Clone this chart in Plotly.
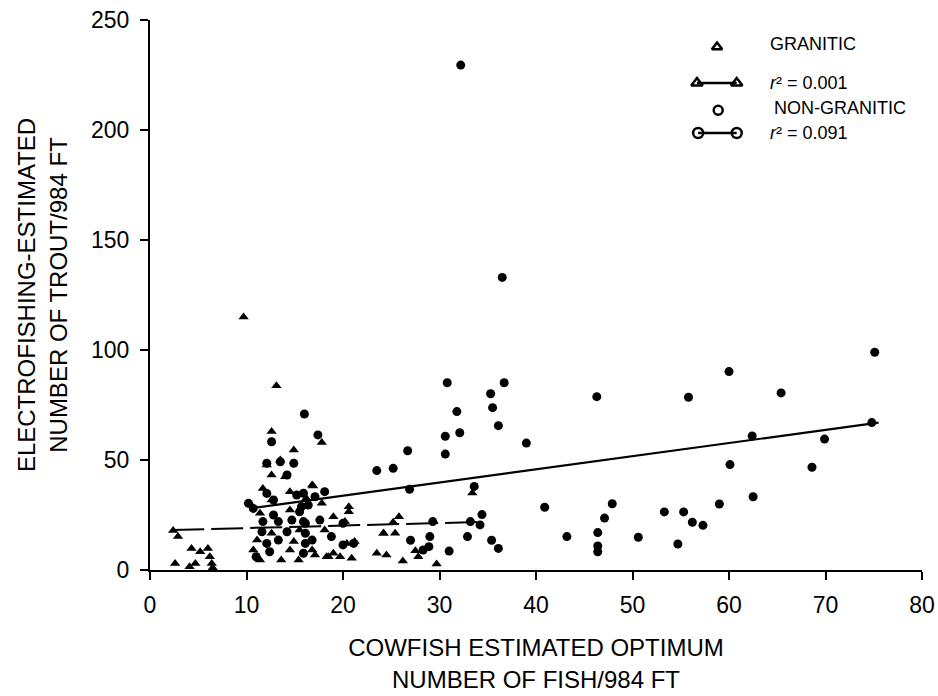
import plotly.graph_objects as go

# ---------------- data ----------------
granitic_x = [2.4, 2.9, 4.3, 5.2, 6.0, 6.2, 2.6, 4.1, 4.7, 6.4, 6.5,
              9.7, 13.1, 12.6, 17.8, 14.9, 13.5, 12.1, 12.6, 14.0, 16.8, 12.6, 10.4, 20.6,
              11.1, 13.6, 15.4, 18.5, 19.7, 18.3, 19.0,
              11.7, 14.5, 16.2, 11.4, 14.5, 12.6, 15.5, 11.1, 14.9, 10.7, 14.5, 11.4,
              20.6, 20.2, 20.4, 21.2, 20.9,
              25.8, 25.2, 24.2, 25.4, 23.5, 24.5, 27.5, 27.8, 26.2, 29.7, 33.4,
              16.9, 17.8, 18.1, 16.8, 17.1, 19.0, 24.2]
granitic_y = [17.9, 15.2, 9.8, 8.3, 9.8, 6.0, 3.0, 1.5, 3.0, 3.0, 1.0,
              115.0, 83.8, 62.9, 58.0, 54.5, 50.0, 47.7, 43.2, 42.4, 38.6, 31.8, 30.0, 28.8,
              6.0, 4.5, 4.5, 6.0, 6.0, 6.0, 7.6,
              37.1, 35.6, 32.6, 25.8, 27.3, 16.7, 18.2, 13.6, 12.9, 9.1, 9.1, 4.5,
              26.5, 22.0, 12.1, 12.9, 5.3,
              24.2, 21.7, 16.7, 16.7, 7.6, 6.8, 8.8, 6.0, 4.1, 2.7, 35.0,
              38.2, 30.3, 18.2, 9.1, 6.8, 24.2, 16.7]

nongranitic_x = [32.2, 36.5, 16.0, 17.4, 12.6, 14.9, 12.1, 13.5, 14.2, 12.1, 15.2, 15.9,
                 12.8, 10.2, 10.7, 12.8, 15.5, 11.7, 13.3, 14.7, 16.1, 11.6, 14.2, 12.1,
                 13.3, 16.1, 12.4, 15.9, 16.4, 15.7, 17.1, 18.1, 17.6, 15.9, 20.0, 18.8,
                 16.1, 16.8, 20.0, 21.1, 11.0,
                 30.8, 36.7, 35.3, 31.8, 35.5, 36.1, 30.6, 32.1, 39.0, 26.7, 30.6, 23.5,
                 25.2, 26.9, 33.6, 34.4, 29.3, 33.2, 34.2, 29.0, 32.9, 27.0, 35.4, 36.1,
                 31.0, 28.9, 28.3,
                 60.0, 46.3, 55.8, 65.4, 75.1, 62.4, 74.8, 69.9, 60.1, 68.6, 62.5, 40.9,
                 47.9, 47.1, 53.3, 55.3, 59.0, 56.2, 57.3, 43.2, 46.4, 46.4, 46.4, 50.6, 54.7]
nongranitic_y = [229.5, 133.0, 70.9, 61.4, 58.3, 48.5, 48.5, 49.2, 43.2, 34.8, 34.1, 34.9,
                 31.8, 30.3, 28.0, 25.0, 26.5, 22.0, 22.0, 22.7, 21.2, 17.4, 17.4, 12.1,
                 13.6, 12.1, 8.3, 7.6, 29.5, 28.8, 33.3, 35.6, 22.7, 22.0, 21.2, 15.2,
                 16.7, 13.6, 11.4, 12.1, 6.0,
                 85.1, 85.1, 80.1, 72.0, 73.8, 65.6, 60.8, 62.4, 57.7, 54.2, 52.7, 45.2,
                 46.2, 36.7, 38.0, 25.2, 22.0, 22.0, 20.5, 15.2, 15.2, 13.5, 13.5, 9.8,
                 8.6, 10.6, 9.1,
                 90.2, 78.8, 78.5, 80.5, 99.0, 60.9, 67.0, 59.5, 47.9, 46.7, 33.3, 28.5,
                 30.1, 23.6, 26.4, 26.4, 30.0, 21.7, 20.3, 15.2, 17.0, 10.9, 8.3, 14.9, 11.8]

# fitted regression lines (end points)
granitic_fit_x = [2.3, 34.2]
granitic_fit_y = [18.2, 21.8]
nongranitic_fit_x = [10.4, 75.5]
nongranitic_fit_y = [28.0, 67.0]

x_ticks = [0, 10, 20, 30, 40, 50, 60, 70, 80]
y_ticks = [0, 50, 100, 150, 200, 250]

legend_labels = ["GRANITIC", "<i>r</i>² = 0.001", "NON-GRANITIC", "<i>r</i>² = 0.091"]

FONT = "Liberation Sans, Arial, sans-serif"

fig = go.Figure()

fig.add_trace(go.Scatter(x=granitic_fit_x, y=granitic_fit_y, mode="lines",
                         line=dict(color="black", width=2, dash="32px,7px"),
                         showlegend=False, hoverinfo="skip"))
fig.add_trace(go.Scatter(x=nongranitic_fit_x, y=nongranitic_fit_y, mode="lines",
                         line=dict(color="black", width=2.2),
                         showlegend=False, hoverinfo="skip"))
fig.add_trace(go.Scatter(x=granitic_x, y=granitic_y, mode="markers",
                         marker=dict(symbol="triangle-up", size=9, color="black"),
                         showlegend=False))
fig.add_trace(go.Scatter(x=nongranitic_x, y=nongranitic_y, mode="markers",
                         marker=dict(symbol="circle", size=9, color="black"),
                         showlegend=False))

# ---- hand-drawn style legend on an overlay axis (0..1 over the plot area) ----
fig.add_trace(go.Scatter(x=[0.7345], y=[0.951], mode="markers", xaxis="x2", yaxis="y2",
                         marker=dict(symbol="triangle-up-open", size=9, color="black",
                                     line=dict(width=2.5, color="black")),
                         showlegend=False, hoverinfo="skip"))
fig.add_trace(go.Scatter(x=[0.7085, 0.760], y=[0.8855, 0.8855], mode="lines+markers",
                         xaxis="x2", yaxis="y2",
                         line=dict(color="black", width=2.5),
                         marker=dict(symbol="triangle-up-open", size=10, color="black",
                                     line=dict(width=2.5, color="black")),
                         showlegend=False, hoverinfo="skip"))
fig.add_trace(go.Scatter(x=[0.736], y=[0.836], mode="markers", xaxis="x2", yaxis="y2",
                         marker=dict(symbol="circle-open", size=9, color="black",
                                     line=dict(width=2.5, color="black")),
                         showlegend=False, hoverinfo="skip"))
fig.add_trace(go.Scatter(x=[0.710, 0.760], y=[0.7945, 0.7945], mode="lines+markers",
                         xaxis="x2", yaxis="y2",
                         line=dict(color="black", width=2.5),
                         marker=dict(symbol="circle-open", size=10, color="black",
                                     line=dict(width=2.5, color="black")),
                         showlegend=False, hoverinfo="skip"))

legend_pos = [(0.8005, 0.956), (0.8005, 0.8855), (0.806, 0.840), (0.8005, 0.7945)]
for (lx, ly), txt in zip(legend_pos, legend_labels):
    fig.add_annotation(x=lx, y=ly, xref="paper", yref="paper", text=txt,
                       showarrow=False, xanchor="left", yanchor="middle",
                       font=dict(family=FONT, size=18, color="black"))

fig.update_layout(
    width=938, height=696,
    margin=dict(l=150, r=16, t=20, b=126),
    paper_bgcolor="white", plot_bgcolor="white",
    font=dict(family=FONT, color="black"),
    xaxis=dict(range=[0, 80], tickvals=x_ticks, ticktext=[str(v) for v in x_ticks],
               showgrid=False, zeroline=False, showline=True, linecolor="black",
               linewidth=2, ticks="outside", ticklen=8, tickwidth=2, tickcolor="black",
               tickfont=dict(size=23), ticklabelstandoff=5, automargin=False,
               title=dict(text="COWFISH ESTIMATED OPTIMUM<br>NUMBER OF FISH/984 FT",
                          font=dict(size=24), standoff=23)),
    yaxis=dict(range=[0, 250], tickvals=y_ticks, ticktext=[str(v) for v in y_ticks],
               showgrid=False, zeroline=False, showline=True, linecolor="black",
               linewidth=2, ticks="outside", ticklen=8, tickwidth=2, tickcolor="black",
               tickfont=dict(size=23), ticklabelstandoff=6, automargin=False,
               title=dict(text="ELECTROFISHING-ESTIMATED<br>NUMBER OF TROUT/984 FT",
                          font=dict(size=24), standoff=17)),
    xaxis2=dict(range=[0, 1], overlaying="x", visible=False, fixedrange=True),
    yaxis2=dict(range=[0, 1], overlaying="y", visible=False, fixedrange=True),
)

fig.write_html("out.html")
